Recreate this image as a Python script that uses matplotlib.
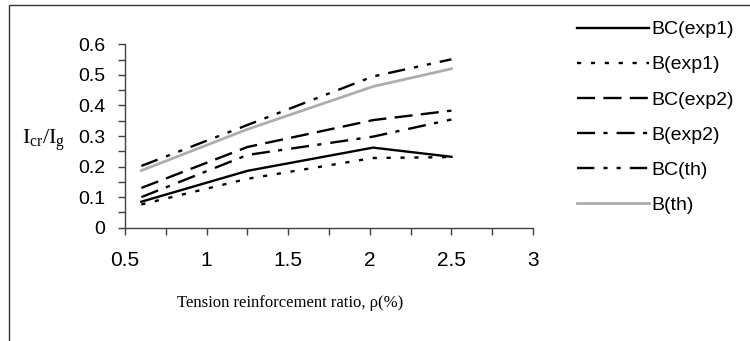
import matplotlib
matplotlib.use('Agg')
import matplotlib.pyplot as plt
from matplotlib.patches import Rectangle
from matplotlib.ticker import MultipleLocator

plt.rcParams['lines.scale_dashes'] = False

# reinforcement ratio (%)
rho = [0.6, 1.25, 2.02, 2.5]

# Icr/Ig for each beam series
bc_exp1 = [0.085, 0.186, 0.262, 0.232]
b_exp1 = [0.076, 0.160, 0.228, 0.231]
bc_exp2 = [0.130, 0.264, 0.352, 0.383]
b_exp2 = [0.100, 0.238, 0.298, 0.354]
bc_th = [0.202, 0.336, 0.495, 0.551]
b_th = [0.187, 0.322, 0.462, 0.520]

labels = ['BC(exp1)', 'B(exp1)', 'BC(exp2)', 'B(exp2)', 'BC(th)', 'B(th)']

fig = plt.figure(figsize=(7.5, 3.41), dpi=100)
ax = fig.add_axes([0.1667, 0.3323, 0.544, 0.5377])

lw = 1.7
ax.plot(rho, bc_exp1, color='black', lw=lw, ls='-', label=labels[0])
ax.plot(rho, b_exp1, color='black', lw=lw, ls=(0, (3, 7)), label=labels[1])
ax.plot(rho, bc_exp2, color='black', lw=lw, ls=(0, (13, 6)), label=labels[2])
ax.plot(rho, b_exp2, color='black', lw=lw, ls=(0, (13, 6, 3, 6.5)), label=labels[3])
ax.plot(rho, bc_th, color='black', lw=lw, ls=(0, (12.5, 6.5, 3, 6.5, 3, 6.5)), label=labels[4])
ax.plot(rho, b_th, color='#adadad', lw=2.0, ls='-', label=labels[5])

ax.set_xlim(0.5, 3)
ax.set_ylim(0, 0.6)
ax.xaxis.set_minor_locator(MultipleLocator(0.25))
ax.yaxis.set_minor_locator(MultipleLocator(0.05))
ax.set_xticks([0.5, 1, 1.5, 2, 2.5, 3])
ax.set_xticklabels(['0.5', '1', '1.5', '2', '2.5', '3'])
ax.set_yticks([0, 0.1, 0.2, 0.3, 0.4, 0.5, 0.6])
ax.set_yticklabels(['0', '0.1', '0.2', '0.3', '0.4', '0.5', '0.6'])

for side in ['top', 'right']:
    ax.spines[side].set_visible(False)
for side in ['left', 'bottom']:
    ax.spines[side].set_color('#404040')
    ax.spines[side].set_linewidth(1.0)

ax.tick_params(which='both', direction='out', length=5, width=1.0, color='#404040')
ax.tick_params(axis='y', which='major', labelsize=14, pad=9)
ax.tick_params(axis='x', which='major', labelsize=15, pad=12)
for t in ax.get_xticklabels() + ax.get_yticklabels():
    t.set_family('Liberation Sans')

fig.text(0.030, 0.578, r'$\mathregular{I_{cr}/I_g}$', family='Liberation Serif',
         fontsize=16, ha='left', va='baseline')
fig.text(0.387, 0.0997, 'Tension reinforcement ratio, ρ(%)', family='Liberation Serif',
         fontsize=12, ha='center', va='baseline')

leg = fig.legend(loc='upper left', bbox_to_anchor=(0.759, 0.962), frameon=False,
                 handlelength=3.7, handletextpad=0.1, labelspacing=0.9,
                 prop={'family': 'Liberation Sans', 'size': 14}, borderaxespad=0)

# outer chart frame
fig.add_artist(Rectangle((9 / 750, -0.2), 1.2, 1.2 - 5 / 341, transform=fig.transFigure,
                         fill=False, edgecolor='#333333', lw=1.0, clip_on=False))

fig.savefig('out.png', dpi=100)
